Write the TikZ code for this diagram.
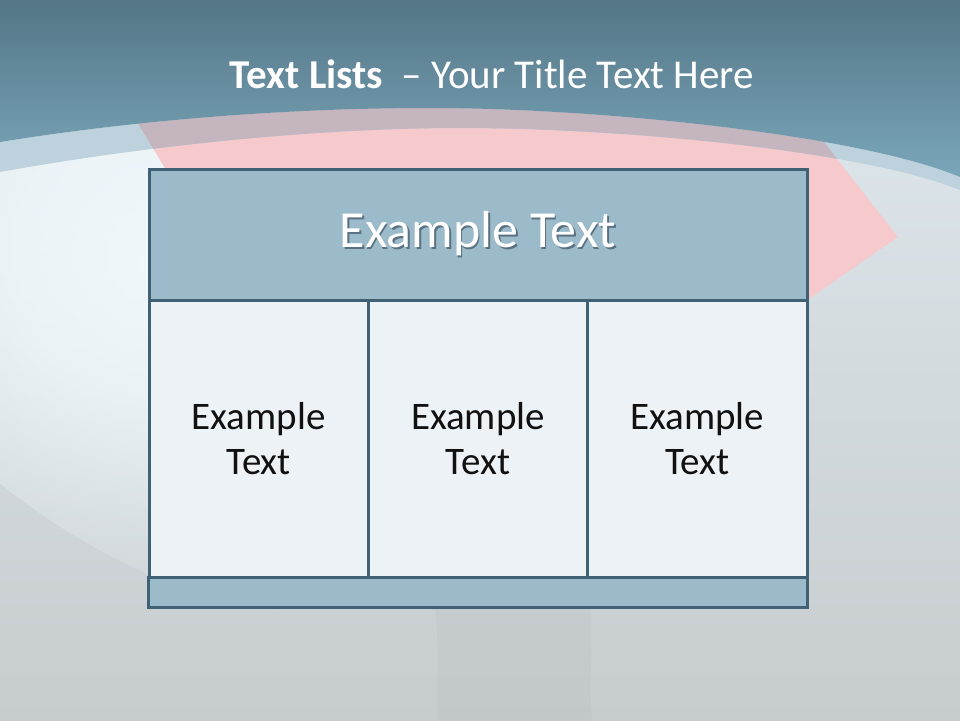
\documentclass[tikz,border=0pt]{standalone}
\usepackage{fontspec}
\setmainfont{Carlito}
\usetikzlibrary{
  positioning,
  fadings,
}
\definecolor{skyTop}{HTML}{547686}
\definecolor{skyLow}{HTML}{7AA6BA}
\definecolor{bandCol}{HTML}{BDD2DC}
\definecolor{bandPink}{HTML}{C5B5BF}
\definecolor{pinkCol}{HTML}{F6CACC}
\definecolor{groundTop}{HTML}{DCE5EA}
\definecolor{groundLow}{HTML}{C7CCCE}
\definecolor{glowCol}{HTML}{F1F8FC}
\definecolor{border}{HTML}{3F6173}
\definecolor{headFill}{HTML}{9BBBCB}
\definecolor{cellFill}{HTML}{EDF2F6}
\definecolor{shadowCol}{HTML}{5B7181}
\definecolor{textDark}{HTML}{111111}
\pgfdeclareradialshading{glowshade}{\pgfpointorigin}{color(0bp)=(pgftransparent!0); color(9bp)=(pgftransparent!20); color(18bp)=(pgftransparent!70); color(25bp)=(pgftransparent!100); color(50bp)=(pgftransparent!100)}
\pgfdeclarefading{glowfade}{\pgfuseshading{glowshade}}
\newcommand{\outerarc}{(0,142) .. controls (150,118) and (300,108) .. (430,108) .. controls (600,108) and (860,135) .. (960,177)}
\newcommand{\innerarc}{(960,190) .. controls (860,150) and (620,128) .. (460,128) .. controls (320,128) and (150,145) .. (0,172)}
\newcommand{\pinkshape}{(127,105) -- (795,105) -- (898,237) -- (810,298) -- (790,320) -- (256,320) -- cycle}
\newcommand{\shadowed}[1]{\makebox[0pt][l]{\hspace{1.6pt}\raisebox{-1.6pt}{\textcolor{shadowCol}{#1}}}#1}
\tikzset{
  tablebox/.style={
    rectangle, draw=border, line width=3pt, inner sep=0pt, outer sep=0pt,
  },
  headbox/.style={
    tablebox, fill=headFill, minimum width=658pt, minimum height=131pt,
    text=white, font=\fontsize{52}{60}\selectfont,
  },
  cellbox/.style={
    tablebox, fill=cellFill, minimum width=219.33pt, minimum height=277pt,
    align=center, text=textDark, font=\fontsize{39}{45}\selectfont,
  },
  footbox/.style={
    tablebox, fill=headFill, minimum width=658pt, minimum height=30pt,
  },
  titletext/.style={text=white, font=\fontsize{41}{50}\selectfont, inner sep=0pt},
}

\begin{document}
\begin{tikzpicture}[x=1pt, y=-1pt]

  \useasboundingbox (0,0) rectangle (960,720);
  \clip (0,0) rectangle (960,720);

  % Background
  \shade[top color=groundTop, bottom color=groundLow] (0,120) rectangle (960,720);
  \fill[glowCol, path fading=glowfade, fit fading=true, rotate around={-40:(170,260)}] (170,260) ellipse (440 and 280);
  \fill[black, opacity=0.022] (435,606) .. controls (440,660) and (436,690) .. (438,720) -- (592,720) .. controls (588,680) and (594,640) .. (590,606) -- cycle;
  \fill[pinkCol] \pinkshape;
  \fill[bandCol] \outerarc -- \innerarc -- cycle;
  \begin{scope}
    \clip \outerarc -- \innerarc -- cycle;
    \fill[bandPink] \pinkshape;
  \end{scope}
  \shade[top color=skyTop, bottom color=skyLow] (0,0) -- \outerarc -- (960,0) -- cycle;

  % Title
  \node[titletext, anchor=base] (title) at (492,88) {\textbf{Text Lists}\hspace{0.45em}\textendash{} Your Title Text Here};

  % Table
  \node[headbox] (head) at (478,234.5) {\shadowed{Example Text}};
  \node[cellbox, below right=0pt and 0pt of head.south west, anchor=north west] (cellL) {Example\\Text};
  \node[cellbox, right=0pt of cellL] (cellM) {Example\\Text};
  \node[cellbox, right=0pt of cellM] (cellR) {Example\\Text};
  \node[footbox, below=0pt of cellM] (foot) {};

\end{tikzpicture}
\end{document}
